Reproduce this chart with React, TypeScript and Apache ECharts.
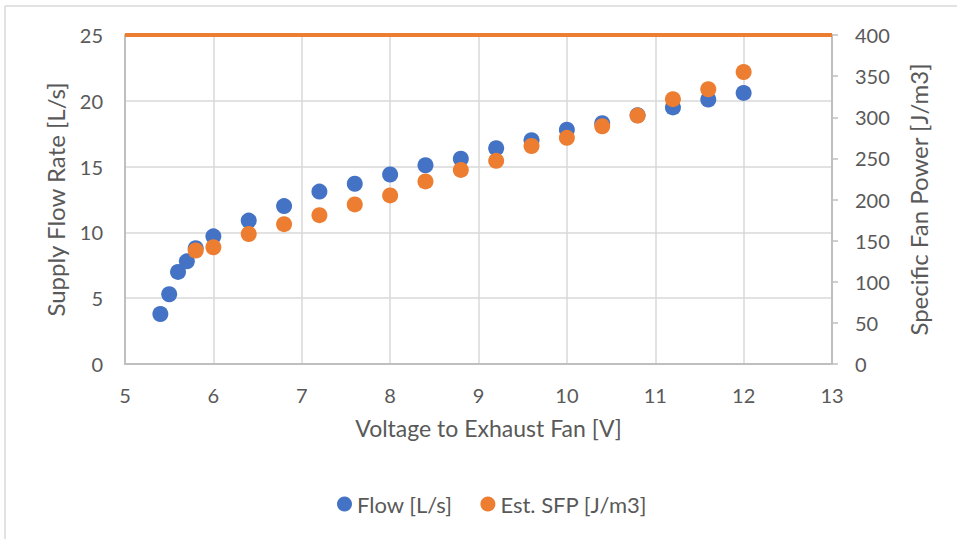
import React, { useEffect, useRef } from "react";
import * as echarts from "echarts";

const voltageFlow = [5.4, 5.5, 5.6, 5.7, 5.8, 6.0, 6.4, 6.8, 7.2, 7.6, 8.0, 8.4, 8.8, 9.2, 9.6, 10.0, 10.4, 10.8, 11.2, 11.6, 12.0];
const flowValues = [3.8, 5.3, 7.0, 7.8, 8.8, 9.7, 10.9, 12.0, 13.1, 13.7, 14.4, 15.1, 15.6, 16.4, 17.0, 17.8, 18.3, 18.9, 19.5, 20.1, 20.6];
const voltageSfp = [5.8, 6.0, 6.4, 6.8, 7.2, 7.6, 8.0, 8.4, 8.8, 9.2, 9.6, 10.0, 10.4, 10.8, 11.2, 11.6, 12.0];
const sfpValues = [138, 142, 158, 170, 181, 194, 205, 222, 236, 247, 265, 275, 289, 302, 322, 334, 355];
const sfpLimitLine = 400;

const FONT = "Lato";
const TEXT = "#595959";

export default function App() {
  const ref = useRef<HTMLDivElement>(null);
  useEffect(() => {
    document.body.style.margin = "0";
    const chart = echarts.init(ref.current!, null, { renderer: "svg" });
    chart.setOption({
      animation: false,
      backgroundColor: "#ffffff",
      textStyle: { fontFamily: FONT },
      graphic: [
        { type: "line", shape: { x1: 5, y1: 6, x2: 957, y2: 6 }, style: { stroke: "#d9d9d9", lineWidth: 1.5 } },
        { type: "line", shape: { x1: 5, y1: 6, x2: 5, y2: 539 }, style: { stroke: "#d9d9d9", lineWidth: 1.5 } },
      ],
      grid: { left: 125, right: 125, top: 35, bottom: 175 },
      legend: {
        top: 493,
        left: 337,
        padding: 0,
        itemGap: 28,
        itemWidth: 15,
        itemHeight: 15,
        icon: "circle",
        textStyle: { fontFamily: FONT, fontSize: 22, color: TEXT },
        data: ["Flow [L/s]", "Est. SFP [J/m3]"],
      },
      xAxis: {
        type: "value",
        min: 5,
        max: 13,
        interval: 1,
        name: "Voltage to Exhaust Fan [V]",
        nameLocation: "middle",
        nameGap: 52,
        nameTextStyle: { fontFamily: FONT, fontSize: 23, color: TEXT, padding: [0, 0, 0, 20] },
        axisLine: { show: true, onZero: false, lineStyle: { color: "#bfbfbf", width: 2 } },
        axisTick: { show: false },
        axisLabel: { margin: 21, fontFamily: FONT, fontSize: 20, color: TEXT },
        splitLine: { show: true, lineStyle: { color: "#d9d9d9", width: 1.5 } },
      },
      yAxis: [
        {
          type: "value",
          min: 0,
          max: 25,
          interval: 5,
          name: "Supply Flow Rate [L/s]",
          nameLocation: "middle",
          nameGap: 58,
          nameTextStyle: { fontFamily: FONT, fontSize: 24, color: TEXT },
          axisLine: { show: true, lineStyle: { color: "#bfbfbf", width: 2 } },
          axisTick: { show: false },
          axisLabel: { margin: 22, fontFamily: FONT, fontSize: 20, color: TEXT },
          splitLine: { show: true, lineStyle: { color: "#d9d9d9", width: 1.5 } },
        },
        {
          type: "value",
          min: 0,
          max: 400,
          interval: 50,
          name: "Specific Fan Power [J/m3]",
          nameLocation: "middle",
          nameGap: 74,
          nameTextStyle: { fontFamily: FONT, fontSize: 24, color: TEXT },
          axisLine: { show: true, lineStyle: { color: "#bfbfbf", width: 2 } },
          axisTick: { show: true, length: 6, lineStyle: { color: "#bfbfbf", width: 1.5 } },
          axisLabel: { margin: 23, fontFamily: FONT, fontSize: 20, color: TEXT },
          splitLine: { show: false },
        },
      ],
      series: [
        {
          name: "Flow [L/s]",
          type: "scatter",
          yAxisIndex: 0,
          symbolSize: 16,
          itemStyle: { color: "#4472C4", opacity: 1 },
          data: voltageFlow.map((v, i) => [v, flowValues[i]]),
        },
        {
          name: "Est. SFP [J/m3]",
          type: "scatter",
          yAxisIndex: 1,
          symbolSize: 16,
          itemStyle: { color: "#ED7D31", opacity: 1 },
          data: voltageSfp.map((v, i) => [v, sfpValues[i]]),
          markLine: {
            silent: true,
            symbol: "none",
            label: { show: false },
            lineStyle: { color: "#ED7D31", width: 4, type: "solid", opacity: 1 },
            data: [{ yAxis: sfpLimitLine }],
          },
        },
      ],
    });
    return () => chart.dispose();
  }, []);
  return <div ref={ref} style={{ width: 957, height: 539 }} />;
}
